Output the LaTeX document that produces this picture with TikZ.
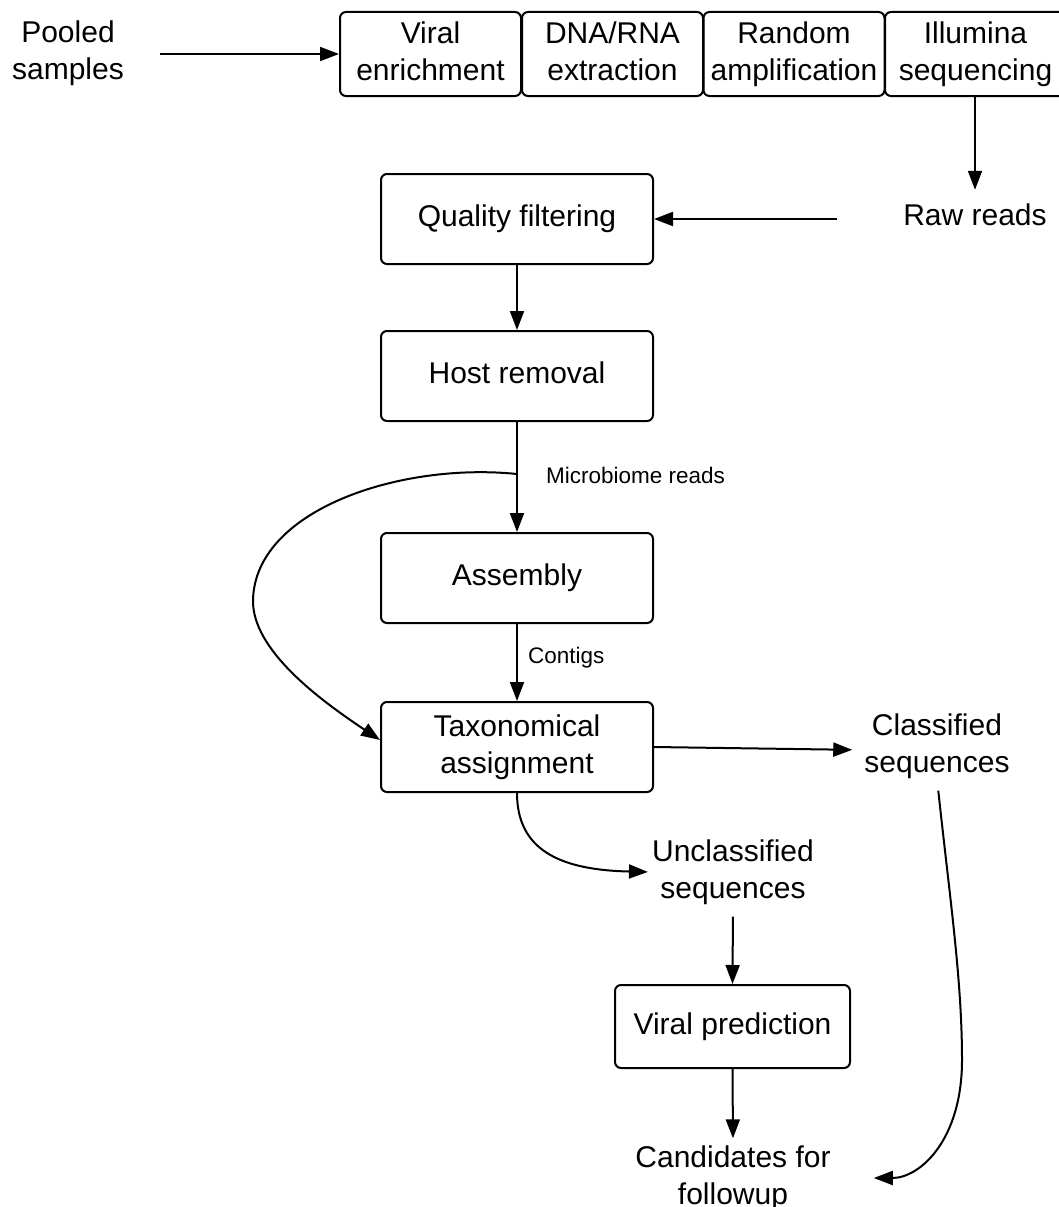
\documentclass[tikz,border=0pt]{standalone}
\usepackage{fontspec}
\setmainfont{Liberation Sans}
\usetikzlibrary{arrows.meta}

\tikzset{
  stepbox/.style={draw, line width=2pt, rounded corners=6pt, align=center, inner sep=0pt, font=\fontsize{30}{37}\selectfont, execute at end node=\vphantom{g}},
  plaintext/.style={align=center, inner sep=0pt, font=\fontsize{30}{37}\selectfont},
  edgelabel/.style={anchor=west, inner sep=0pt, font=\fontsize{22.5}{27}\selectfont},
  flow/.style={line width=2pt, -{Triangle[length=19pt,width=14pt]}},
}

\begin{document}
\begin{tikzpicture}[x=1pt,y=1pt,yscale=-1,xscale=1]
\useasboundingbox (0,0) rectangle (1058,1207);

% Text Node
\node (pooled) [plaintext] at (68,53) {Pooled\\samples};
%Shape: Rectangle (lab steps)
\node (enrich) [stepbox, minimum width=181, minimum height=84] at (430.5,54) {Viral\\enrichment};
\node (extract) [stepbox, minimum width=181, minimum height=84] at (612.5,54) {DNA/RNA\\extraction};
\node (amplify) [stepbox, minimum width=181, minimum height=84] at (794,54) {Random\\amplification};
\node (illumina) [stepbox, minimum width=181, minimum height=84] at (975.5,54) {Illumina\\sequencing};
% Text Node
\node (raw) [plaintext] at (975,215) {Raw reads};

%Shape: Rectangle (pipeline)
\node (filter) [stepbox, minimum width=272, minimum height=90] at (517,219) {Quality filtering};
\node (host) [stepbox, minimum width=272, minimum height=90] at (517,376) {Host removal};
\node (assembly) [stepbox, minimum width=272, minimum height=90] at (517,578) {Assembly};
\node (taxon) [stepbox, minimum width=272, minimum height=90] at (517,747) {Taxonomical\\assignment};

% Text Node
\node (classified) [plaintext] at (937,746) {Classified\\sequences};
\node (unclassified) [plaintext] at (733,872) {Unclassified\\sequences};
\node (predict) [stepbox, minimum width=235, minimum height=83] at (732.5,1026.5) {Viral prediction};
\node (followup) [plaintext] at (733,1178) {Candidates for\\followup};

% Edge labels
\node (microbiome) [edgelabel] at (546,475) {Microbiome reads};
\node (contigs) [edgelabel] at (528,658) {Contigs};
\coordinate (split) at (517,474);

%Straight Lines
\draw [flow, shorten <=36pt] (pooled.east |- enrich.west) -- (enrich.west);
\draw [flow, shorten >=14pt] (illumina.south -| raw.north) -- (raw.north);
\draw [flow, shorten <=66pt] (raw.west |- filter.east) -- (filter.east);
\draw [flow] (filter.south) -- (host.north);
\draw [flow] (host.south) -- (assembly.north);
\draw [flow] (assembly.south) -- (taxon.north);
\draw [flow, shorten >=12pt] (taxon.east) -- ([yshift=4pt]classified.west);
\draw [flow, shorten <=12pt] (unclassified.south) -- (predict.north);
\draw [flow, shorten >=7pt] (predict.south) -- (followup.north);

%Curve Lines
\draw [flow] (split) .. controls (400,462) and (255,510) .. (253,600) .. controls (252,650) and (320,700) .. ([yshift=-7pt]taxon.west);
\draw [flow, shorten >=4pt] (taxon.south) .. controls (517,850) and (560,870) .. (unclassified.west);
\draw [flow, shorten <=12pt, shorten >=43pt] (classified.south) .. controls (950,900) and (962,980) .. (962,1060) .. controls (962,1140) and (920,1178) .. (followup.east);

\end{tikzpicture}
\end{document}
